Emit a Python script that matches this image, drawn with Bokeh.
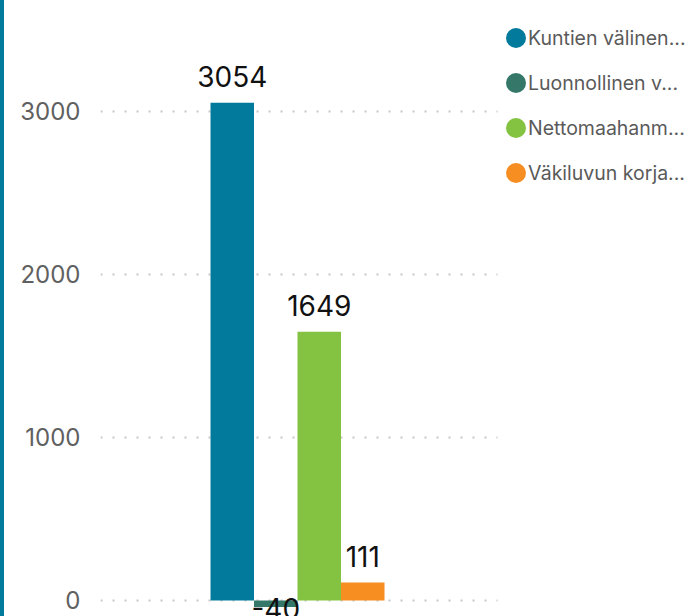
import numpy as np
from bokeh.plotting import figure
from bokeh.models import Range1d, ColumnDataSource, Legend, LegendItem, FixedTicker
from bokeh.core.properties import value
from bokeh.embed import file_html
from bokeh.resources import INLINE

series = ["Kuntien välinen...", "Luonnollinen v...", "Nettomaahanm...", "Väkiluvun korja..."]
values = [3054, -40, 1649, 111]
colors = ["#017a9b", "#35786a", "#83c341", "#f68e21"]
yticks = [0, 1000, 2000, 3000]

n = len(values)
xpos = [i - (n - 1) / 2 for i in range(n)]

src = ColumnDataSource(dict(x=xpos, v=values, c=colors))
pos = [i for i, v in enumerate(values) if v >= 0]
neg = [i for i, v in enumerate(values) if v < 0]
src_pos = ColumnDataSource(dict(x=[xpos[i] for i in pos], v=[values[i] for i in pos],
                                lbl=[str(values[i]) for i in pos]))
src_neg = ColumnDataSource(dict(x=[xpos[i] for i in neg], v=[values[i] for i in neg],
                                lbl=[str(values[i]) for i in neg]))

FONT = "Inter"

p = figure(width=691, height=616, output_backend="svg", toolbar_location=None,
           x_range=Range1d(-4.529, 9.149), y_range=Range1d(-98.2, 3668.7),
           x_axis_location=None, min_border_left=96, min_border_right=0,
           min_border_top=2, min_border_bottom=0)
p.styles = {"border-left": "4px solid #017a9b"}
p.outline_line_color = None

ax = p.yaxis[0]
ax.ticker = FixedTicker(ticks=yticks)
ax.axis_line_color = None
ax.major_tick_line_color = None
ax.minor_tick_line_color = None
ax.major_label_standoff = 14
ax.major_label_text_font = FONT
ax.major_label_text_font_size = "24px"
ax.major_label_text_color = "#606060"

for g in p.xgrid:
    g.visible = False
yg = p.ygrid[0]
yg.grid_line_color = "#c6c6c6"
yg.grid_line_dash = "2 10"
yg.grid_line_width = 2
yg.cross_bounds = (-4.529, 4.598)

p.vbar(x="x", top="v", bottom=0, width=1, fill_color="c", line_color=None, source=src)

common = dict(text="lbl", text_align="center", text_baseline="alphabetic",
              text_font=value(FONT), text_font_size="28px", text_color="#111111")
p.text(x="x", y="v", source=src_pos, y_offset=-26, **common)
p.text(x="x", y="v", source=src_neg, y_offset=1, **common)

items = []
for name, col in zip(series, colors):
    r = p.ellipse(x=[np.nan], y=[np.nan], width=20, height=20,
                  width_units="screen", height_units="screen",
                  fill_color=col, line_color=None)
    items.append(LegendItem(label=name, renderers=[r]))

legend = Legend(items=items, location=(403, 431), glyph_width=25, glyph_height=25,
                label_height=25, spacing=20, label_standoff=0, padding=0, margin=0,
                border_line_color=None, background_fill_alpha=0,
                label_text_font=FONT, label_text_font_size="19.5px",
                label_text_color="#5a5a5a")
p.add_layout(legend)

open("out.html", "w").write(file_html(p, INLINE))
